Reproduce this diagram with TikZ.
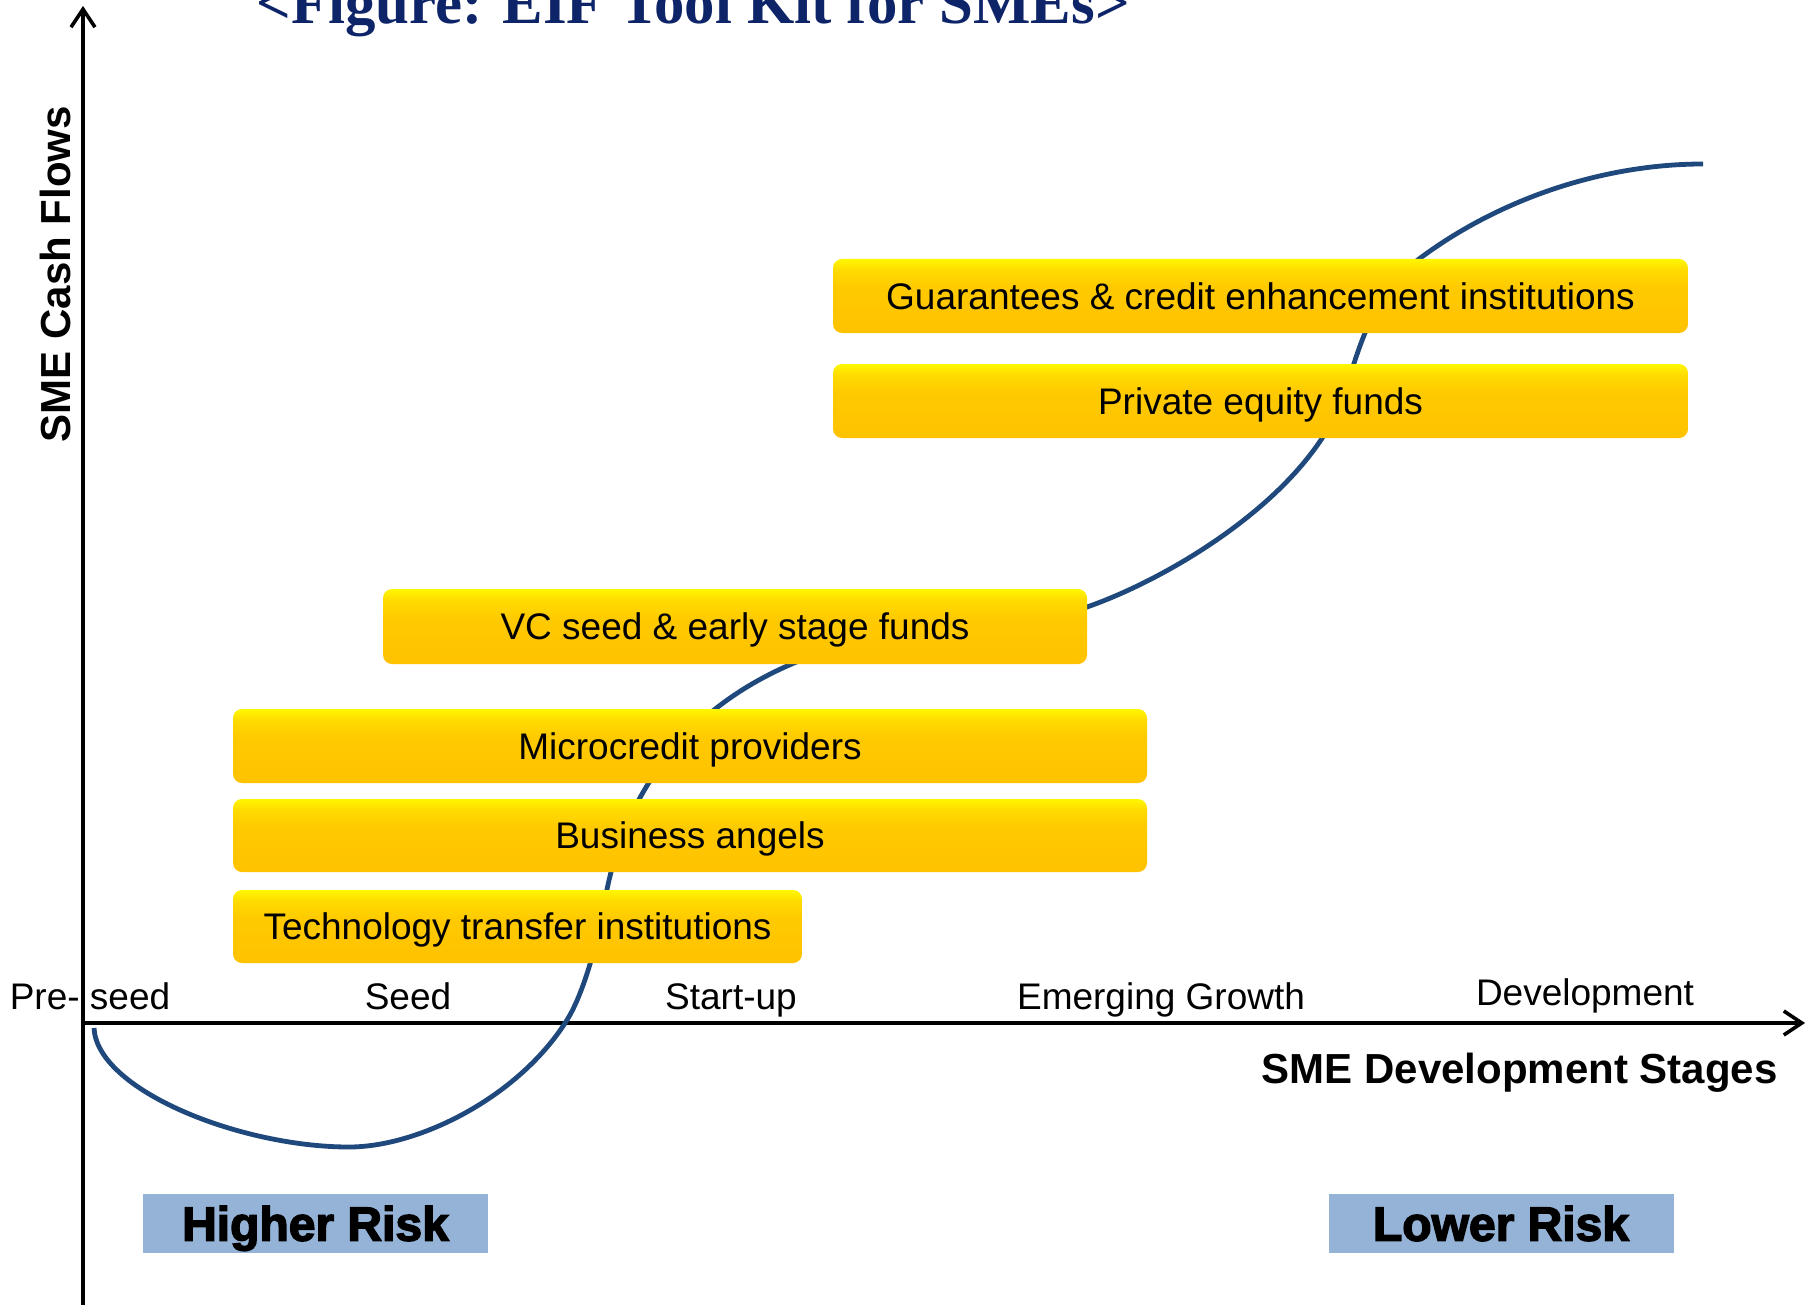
\documentclass[tikz,border=0pt]{standalone}
\usepackage{fontspec}
\setmainfont{Liberation Sans}
\newfontfamily\titlefont{Liberation Serif}
\newfontfamily\heavyfont{Liberation Sans}[BoldFeatures={FakeBold=3}]
\usetikzlibrary{arrows.meta}
\definecolor{boxtop}{HTML}{FFF700}
\definecolor{boxhi}{HTML}{FFDC00}
\definecolor{boxmid}{HTML}{FFCA00}
\definecolor{boxbot}{HTML}{FFC200}
\definecolor{riskblue}{HTML}{95B3D7}
\definecolor{curveblue}{HTML}{1F497D}
\definecolor{titlenavy}{HTML}{0E2468}
\pgfdeclareverticalshading{fundshade}{100bp}{color(0bp)=(boxbot); color(25bp)=(boxbot); color(56bp)=(boxmid); color(68bp)=(boxhi); color(75bp)=(boxtop); color(100bp)=(boxtop)}
\begin{document}
\begin{tikzpicture}[x=0.5pt,y=-0.5pt,
  fundbox/.style={rounded corners=4.5pt, shading=fundshade, inner sep=0pt,
    minimum height=37pt, text height=13.25pt, text depth=0pt,
    font=\fontsize{18.5}{22}\selectfont, text=black},
  riskbox/.style={fill=riskblue, inner sep=0pt, minimum width=172.5pt, minimum height=29.5pt,
    text height=17.2pt, text depth=0pt,
    font=\heavyfont\bfseries\fontsize{24}{28}\selectfont},
  stagelabel/.style={anchor=base, inner sep=0pt, font=\fontsize{18.5}{22}\selectfont},
  axislabel/.style={inner sep=0pt, font=\bfseries\fontsize{21}{25}\selectfont},
  axisline/.style={line width=1.8pt, -{Straight Barb[length=9pt,width=12pt,line width=1.8pt]}},
  sline/.style={line width=2.4pt, draw=curveblue}]
\useasboundingbox (0,0) rectangle (1819,1305);
\fill[white] (0,0) rectangle (1819,1305);

% title
\node[anchor=base, inner sep=0pt, text=titlenavy, font=\titlefont\bfseries\fontsize{30.4}{34}\selectfont] (title) at (693,24) {<Figure: EIF Tool Kit for SMEs>};

% axes
\coordinate (O) at (83,1023);
\coordinate (ybot) at (83,1305);
\coordinate (ytip) at (83,6);
\coordinate (xtip) at (1805,1023);
\draw[axisline] (ybot) -- (ytip);
\draw[axisline] (O) -- (xtip);

% S-curve
\coordinate (c0) at (94,1028);
\coordinate (c1) at (349,1147);
\coordinate (c2) at (567,1020);
\coordinate (c3) at (605,900);
\coordinate (c4) at (794,663);
\coordinate (c5) at (1087,607);
\coordinate (c6) at (1340,405);
\coordinate (c7) at (1419,259);
\coordinate (c8) at (1703,164);
\draw[sline] (c0) .. controls (97,1090) and (240,1147) .. (c1)
  .. controls (419,1147) and (519,1097) .. (c2)
  .. controls (582,996) and (596,950) .. (c3)
  .. controls (631,752) and (730,690) .. (c4)
  .. controls (886,624) and (993,640) .. (c5)
  .. controls (1170,578) and (1300,500) .. (c6)
  .. controls (1356,365) and (1365,300) .. (c7)
  .. controls (1499,199) and (1603,164) .. (c8);

% funding boxes
\node[fundbox, minimum width=427.5pt] (guar) at (1260.5,296) {Guarantees \& credit enhancement institutions};
\node[fundbox, minimum width=427.5pt] (pe) at (1260.5,401) {Private equity funds};
\node[fundbox, minimum width=352pt, minimum height=37.5pt] (vc) at (735,626.5) {VC seed \& early stage funds};
\node[fundbox, minimum width=457pt] (micro) at (690,746) {Microcredit providers};
\node[fundbox, minimum width=457pt, minimum height=36.5pt] (angels) at (690,835.5) {Business angels};
\node[fundbox, minimum width=284.5pt, minimum height=36.5pt] (tech) at (517.5,926.5) {Technology transfer institutions};

% stage labels
\node[stagelabel] (preseed) at (90,1009) {Pre- seed};
\node[stagelabel] (seed) at (408,1009) {Seed};
\node[stagelabel] (startup) at (731,1009) {Start-up};
\node[stagelabel] (emerging) at (1161,1009) {Emerging Growth};
\node[stagelabel] (devel) at (1585,1005) {Development};

% axis titles
\node[axislabel, anchor=east] (xlab) at (1778,1073) {SME Development Stages};
\node[axislabel, rotate=90] (ylab) at (55,274) {SME Cash Flows};

% risk boxes
\node[riskbox] (higher) at (315.5,1223.5) {Higher Risk};
\node[riskbox] (lower) at (1501,1223.5) {Lower Risk};
\end{tikzpicture}
\end{document}
